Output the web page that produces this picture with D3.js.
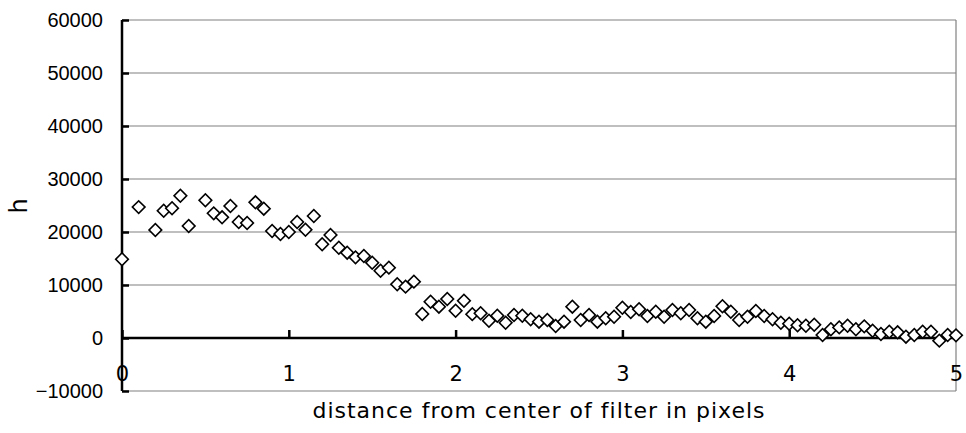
<!DOCTYPE html>
<html>
<head>
<meta charset="utf-8">
<script src="https://cdn.jsdelivr.net/npm/d3@7"></script>
<style>
  body { margin: 0; background: #fff; }
  text { font-family: "Liberation Sans", Arial, sans-serif; fill: #000; }
</style>
</head>
<body>
<svg width="966" height="433"></svg>
<script>
// distance values (pixels) and measured h
var distances = [0, 0.1, 0.2, 0.25, 0.3, 0.35, 0.4, 0.5, 0.55, 0.6, 0.65, 0.7, 0.75, 0.8, 0.85, 0.9, 0.95,
  1.0, 1.05, 1.1, 1.15, 1.2, 1.25, 1.3, 1.35, 1.4, 1.45, 1.5, 1.55, 1.6, 1.65, 1.7, 1.75, 1.8, 1.85, 1.9, 1.95,
  2.0, 2.05, 2.1, 2.15, 2.2, 2.25, 2.3, 2.35, 2.4, 2.45, 2.5, 2.55, 2.6, 2.65, 2.7, 2.75, 2.8, 2.85, 2.9, 2.95,
  3.0, 3.05, 3.1, 3.15, 3.2, 3.25, 3.3, 3.35, 3.4, 3.45, 3.5, 3.55, 3.6, 3.65, 3.7, 3.75, 3.8, 3.85, 3.9, 3.95,
  4.0, 4.05, 4.1, 4.15, 4.2, 4.25, 4.3, 4.35, 4.4, 4.45, 4.5, 4.55, 4.6, 4.65, 4.7, 4.75, 4.8, 4.85, 4.9, 4.95, 5.0];
var hValues = [14850, 24700, 20380, 24000, 24470, 26850, 21130, 25980, 23520, 22770, 24900, 21890, 21700, 25600, 24400, 20190, 19620,
  20000, 21890, 20430, 23020, 17700, 19430, 17040, 16100, 15220, 15470, 14210, 12700, 13270, 10130, 9690, 10630, 4530, 6850, 5910, 7360,
  5150, 7040, 4500, 4660, 3260, 4210, 2890, 4340, 4210, 3530, 3080, 3400, 2260, 3080, 5910, 3400, 4340, 3080, 3720, 4020,
  5700, 4900, 5420, 4150, 4960, 4020, 5280, 4660, 5280, 3720, 3080, 4150, 6000, 4960, 3400, 4020, 5100, 4150, 3530, 2890,
  2700, 2400, 2300, 2500, 570, 1640, 2000, 2300, 1640, 2200, 1380, 750, 1190, 1070, 250, 570, 1190, 1190, -500, 570, 500];
var xTicks = [0, 1, 2, 3, 4, 5];
var yTicks = [-10000, 0, 10000, 20000, 30000, 40000, 50000, 60000];

var plotLeft = 122, plotRight = 956, plotTop = 20, plotBottom = 391;

var svg = d3.select("svg");
var x = d3.scaleLinear().domain([0, 5]).range([plotLeft, plotRight]);
var y = d3.scaleLinear().domain([-10000, 60000]).range([plotBottom, plotTop]);

// gridlines
svg.append("g").selectAll("line").data(yTicks).join("line")
  .attr("x1", plotLeft).attr("x2", plotRight)
  .attr("y1", d => y(d)).attr("y2", d => y(d))
  .attr("stroke", "#808080").attr("stroke-width", 1.2);
svg.append("line")
  .attr("x1", plotRight).attr("x2", plotRight).attr("y1", plotTop).attr("y2", plotBottom)
  .attr("stroke", "#808080").attr("stroke-width", 1.2);

// y axis, ticks pointing inwards
var yAxis = svg.append("g").attr("transform", "translate(" + plotLeft + ",0)")
  .call(d3.axisLeft(y).tickValues(yTicks).tickSize(-7).tickPadding(19)
    .tickFormat(d => d < 0 ? "\u221210000" : d));
yAxis.select(".domain").attr("stroke", "#000").attr("stroke-width", 2.5).attr("d", "M0," + plotTop + "V" + plotBottom);
yAxis.selectAll(".tick line").attr("stroke", "#000").attr("stroke-width", 2.5);
yAxis.selectAll("text").attr("font-size", 20).style("font-family", "Liberation Sans, Arial, sans-serif");

// x axis at y = 0
var xAxis = svg.append("g").attr("transform", "translate(0," + y(0) + ")")
  .call(d3.axisBottom(x).tickValues(xTicks).tickSize(-8).tickPadding(28).tickFormat(d3.format("d")));
xAxis.select(".domain").attr("stroke", "#000").attr("stroke-width", 2.5).attr("d", "M" + plotLeft + ",0H" + plotRight);
xAxis.selectAll(".tick line").attr("stroke", "#000").attr("stroke-width", 2.5);
xAxis.selectAll("text").attr("font-size", 21).style("font-family", "DejaVu Sans, sans-serif");

// data markers
var diamond = d3.symbol().type(d3.symbolSquare).size(80);
svg.append("g").selectAll("path").data(distances).join("path")
  .attr("d", diamond)
  .attr("transform", (d, i) => "translate(" + x(d) + "," + y(hValues[i]) + ") rotate(45)")
  .attr("fill", "#fff").attr("stroke", "#000").attr("stroke-width", 1.6);

// titles
svg.append("text")
  .attr("x", 539).attr("y", 418)
  .attr("text-anchor", "middle").attr("font-size", 22)
  .attr("letter-spacing", 1)
  .style("font-family", "DejaVu Sans, sans-serif")
  .text("distance from center of filter in pixels");
svg.append("text")
  .attr("transform", "translate(27,206) rotate(-90)")
  .attr("text-anchor", "middle").attr("font-size", 24)
  .style("font-family", "DejaVu Sans, sans-serif")
  .text("h");
</script>
</body>
</html>
